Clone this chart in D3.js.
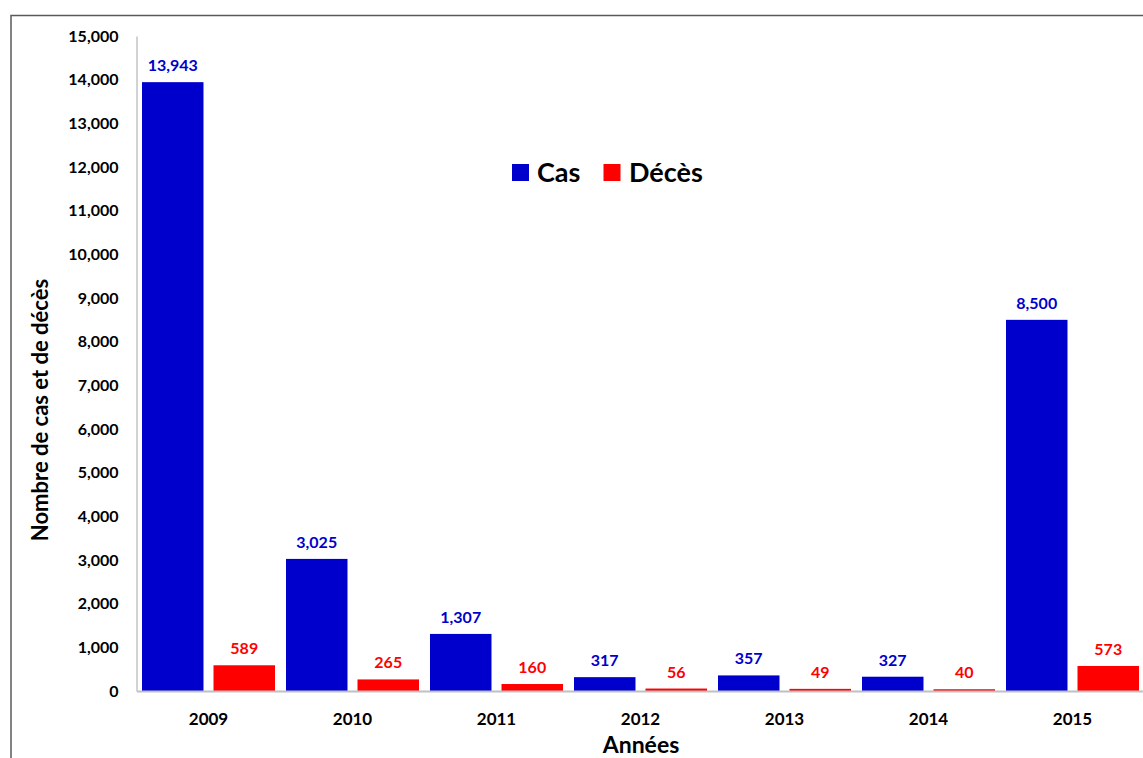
<!DOCTYPE html>
<html><head><meta charset="utf-8">
<script src="https://cdn.jsdelivr.net/npm/d3@7"></script>
<style>body{margin:0;background:#fff}svg{display:block}text{font-family:Lato,"Open Sans",sans-serif;font-weight:bold}</style>
</head><body>
<svg id="c" width="1143" height="758"></svg>
<script>
const years = ["2009","2010","2011","2012","2013","2014","2015"];
const cas = [13943,3025,1307,317,357,327,8500];
const deces = [589,265,160,56,49,40,573];
const seriesNames = ["Cas","Décès"];
const seriesColors = ["#0000CC","#FF0000"];
const yTicks = [0,1000,2000,3000,4000,5000,6000,7000,8000,9000,10000,11000,12000,13000,14000,15000];

(function(){
const svg = d3.select("#c");
svg.append("rect").attr("x",11).attr("y",15.5).attr("width",1200).attr("height",800)
  .attr("fill","none").attr("stroke","#595959").attr("stroke-width",1.5);

const pLeft=136.5, pRight=1144.5, pTop=36, pBottom=691;
const y = d3.scaleLinear().domain([0,15000]).range([pBottom,pTop]);
const x0 = d3.scaleBand().domain(years).range([pLeft,pRight]).padding(0);
const x1 = d3.scaleBand().domain(seriesNames).range([5.5,138.5]).paddingInner(0.14);

const yAxis = d3.axisLeft(y).tickValues(yTicks).tickSize(0).tickPadding(18).tickFormat(d3.format(","));
const ya = svg.append("g").attr("transform",`translate(${pLeft},0)`).call(yAxis);
ya.select(".domain").attr("stroke","#a6a6a6").attr("stroke-width",1);
ya.selectAll("text").attr("font-size",16).attr("fill","#000").attr("font-family","Lato").attr("font-weight","bold");

const data = years.map((yr,i)=>({year:yr, vals:[{k:"Cas",v:cas[i],c:seriesColors[0]},{k:"Décès",v:deces[i],c:seriesColors[1]}]}));
const g = svg.selectAll("g.grp").data(data).enter().append("g").attr("class","grp")
  .attr("transform",d=>`translate(${x0(d.year)},0)`);
g.selectAll("rect").data(d=>d.vals).enter().append("rect")
  .attr("x",d=>x1(d.k)).attr("width",x1.bandwidth())
  .attr("y",d=>y(d.v)).attr("height",d=>pBottom-y(d.v)).attr("fill",d=>d.c);
g.selectAll("text.lbl").data(d=>d.vals).enter().append("text").attr("class","lbl")
  .attr("x",d=>x1(d.k)+x1.bandwidth()/2).attr("y",d=>y(d.v)-11)
  .attr("text-anchor","middle").attr("font-size",16).attr("fill",d=>d.c)
  .text(d=>d3.format(",")(d.v));

const xAxis = d3.axisBottom(x0).tickSize(0).tickPadding(22);
const xa = svg.append("g").attr("transform",`translate(0,${pBottom})`).call(xAxis);
xa.select(".domain").attr("stroke","#c0c0c0").attr("stroke-width",2);
xa.selectAll("text").attr("font-size",17).attr("fill","#000").attr("font-family","Lato").attr("font-weight","bold");

svg.append("text").attr("x",641).attr("y",753).attr("text-anchor","middle").attr("font-size",23).text("Années");
svg.append("text").attr("transform","translate(48,410) rotate(-90)").attr("text-anchor","middle").attr("font-size",22).text("Nombre de cas et de décès");

const lg = svg.append("g");
const lx=[512,603.5], tx=[537,629];
seriesNames.forEach((n,i)=>{
  lg.append("rect").attr("x",lx[i]).attr("y",164).attr("width",17).attr("height",17).attr("fill",seriesColors[i]);
  lg.append("text").attr("x",tx[i]).attr("y",182).attr("font-size",27).attr("fill","#000").text(n);
});
})();
</script>
</body></html>
